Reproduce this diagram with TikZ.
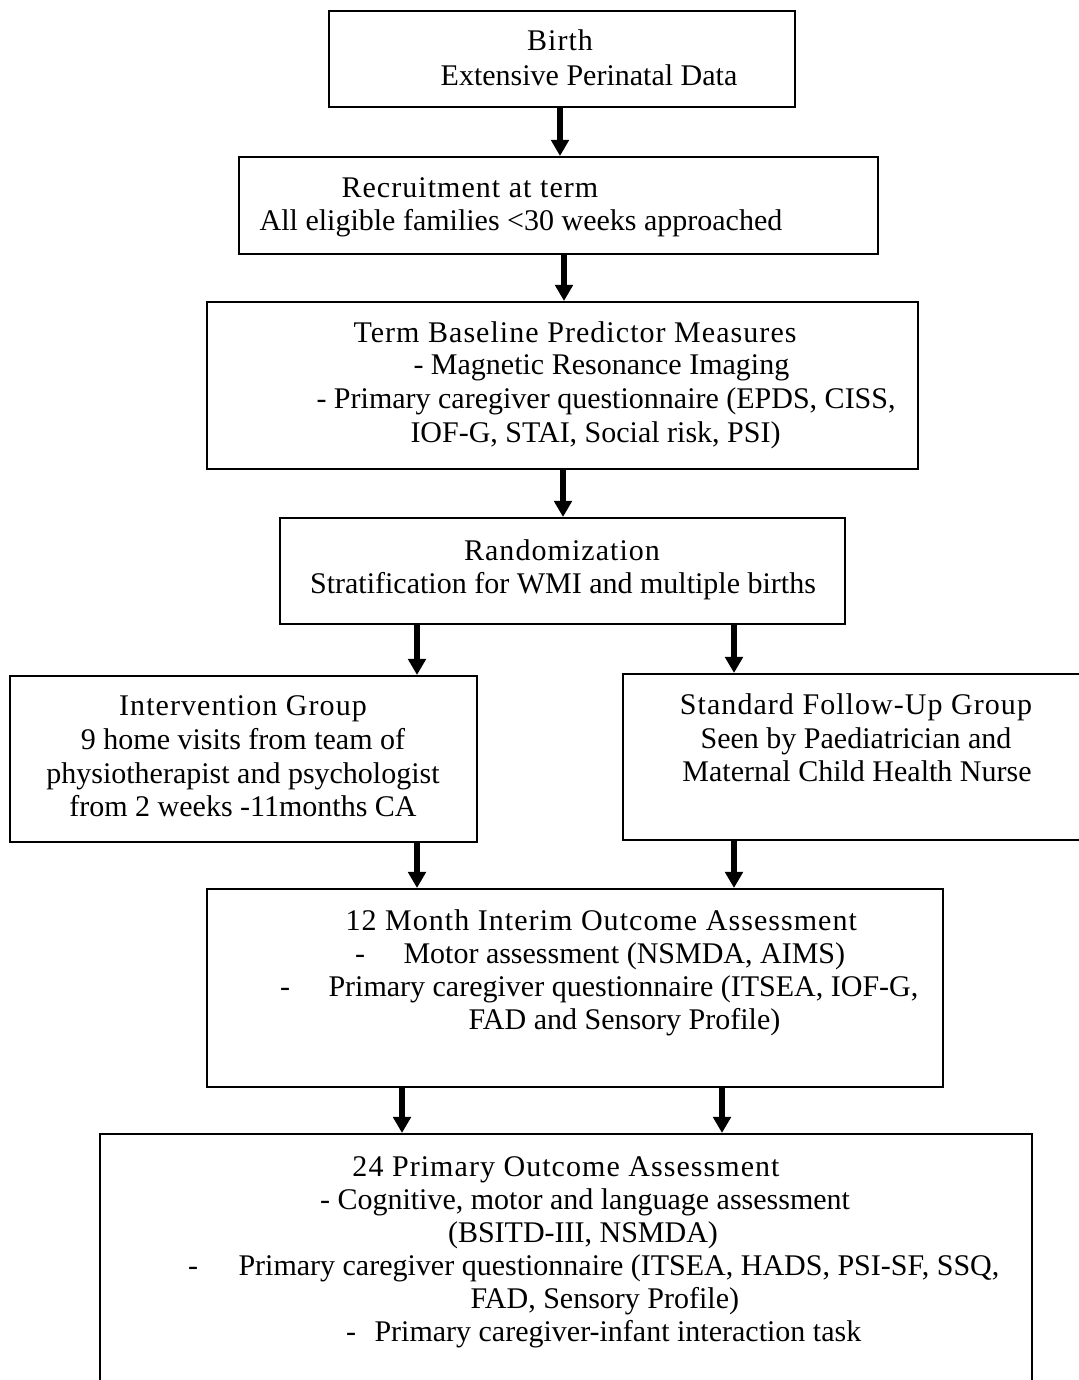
\documentclass[tikz,border=0pt]{standalone}
\usepackage{fontspec}
\setmainfont{Liberation Serif}
\usetikzlibrary{arrows.meta}
\newcommand\px{0.4pt}

\begin{document}
\begin{tikzpicture}[
        x=0.4pt, y=-0.4pt,
        box/.style={
            % The shape:
            rectangle,
            inner sep=0pt,
            % The border
            thick,
            draw=black,
            % The filling
            fill=white
        },
        txt/.style={
            inner sep=0pt,
            text height=9.7pt,
            text depth=1.3pt,
            % Font
            font=\fontsize{12}{14}\selectfont
        },
        title/.style={
            txt,
            font=\fontsize{12}{14}\selectfont\addfontfeature{LetterSpace=3.5}
        },
        flow/.style={
            line width=2.2pt,
            -{Triangle[width=7pt,length=6.5pt]}
        }]

        \useasboundingbox (0,0) rectangle (1079,1380);

        % The boxes
        \node [box, minimum width=466*\px, minimum height=96*\px]  (birth)   at (562,59) {};
        \node [box, minimum width=639*\px, minimum height=97*\px]  (recruit) at (558.5,205.5) {};
        \node [box, minimum width=711*\px, minimum height=167*\px] (term)    at (562.5,385.5) {};
        \node [box, minimum width=565*\px, minimum height=106*\px] (rand)    at (562.5,571) {};
        \node [box, minimum width=467*\px, minimum height=166*\px] (intv)    at (243.5,759) {};
        \node [box, minimum width=466*\px, minimum height=166*\px] (std)     at (856,757) {};
        \node [box, minimum width=736*\px, minimum height=198*\px] (month)   at (575,988) {};
        \node [box, minimum width=932*\px, minimum height=300*\px] (final)   at (566,1284) {};

        % The arrows
        \foreach \from/\to/\x in {birth/recruit/560, recruit/term/564, term/rand/563,
                                  rand/intv/417, rand/std/734, intv/month/417,
                                  std/month/734, month/final/402, month/final/722}
        {
            \draw [flow] (\from.south -| \x,0) -- (\to.north -| \x,0);
        }

        % The texts
        \node [title] (birth-1) at (560,40) {Birth};
        \node [txt]   (birth-2) at (589,75) {Extensive Perinatal Data};

        \node [title, anchor=west] (recruit-1) at (341,187) {Recruitment at term};
        \node [txt]                (recruit-2) at (521,220) {All eligible families <30 weeks approached};

        \node [title, anchor=west] (term-1) at (353,332) {Term Baseline Predictor Measures};
        \node [txt, anchor=west]   (term-2) at (413,364) {- Magnetic Resonance Imaging};
        \node [txt, anchor=west]   (term-3) at (316,398) {- Primary caregiver questionnaire (EPDS, CISS,};
        \node [txt, anchor=west]   (term-4) at (410,432) {IOF-G, STAI, Social risk, PSI)};

        \node [title] (rand-1) at (562,550) {Randomization};
        \node [txt]   (rand-2) at (563,583) {Stratification for WMI and multiple births};

        \node [title] (intv-1) at (243,705) {Intervention Group};
        \node [txt]   (intv-2) at (243,739) {9 home visits from team of};
        \node [txt]   (intv-3) at (243,773) {physiotherapist and psychologist};
        \node [txt]   (intv-4) at (243,806) {from 2 weeks -11months CA};

        \node [title] (std-1) at (856,704) {Standard Follow-Up Group};
        \node [txt]   (std-2) at (856,738) {Seen by Paediatrician and};
        \node [txt]   (std-3) at (857,771) {Maternal Child Health Nurse};

        \node [title, anchor=west] (month-1) at (345,920) {12 Month Interim Outcome Assessment};
        \node [txt]                (month-2) at (360,953) {-};
        \node [txt, anchor=west]   (month-3) at (403,953) {Motor assessment (NSMDA, AIMS)};
        \node [txt]                (month-4) at (285,986) {-};
        \node [txt, anchor=west]   (month-5) at (328,986) {Primary caregiver questionnaire (ITSEA, IOF-G,};
        \node [txt, anchor=west]   (month-6) at (468,1019) {FAD and Sensory Profile)};

        \node [title]              (final-1) at (566,1166) {24 Primary Outcome Assessment};
        \node [txt]                (final-2) at (585,1199) {- Cognitive, motor and language assessment};
        \node [txt]                (final-3) at (583,1232) {(BSITD-III, NSMDA)};
        \node [txt]                (final-4) at (193,1265) {-};
        \node [txt, anchor=west]   (final-5) at (238,1265) {Primary caregiver questionnaire (ITSEA, HADS, PSI-SF, SSQ,};
        \node [txt, anchor=west]   (final-6) at (470,1298) {FAD, Sensory Profile)};
        \node [txt]                (final-7) at (351,1331) {-};
        \node [txt, anchor=west]   (final-8) at (374,1331) {Primary caregiver-infant interaction task};

    \end{tikzpicture}
\end{document}
